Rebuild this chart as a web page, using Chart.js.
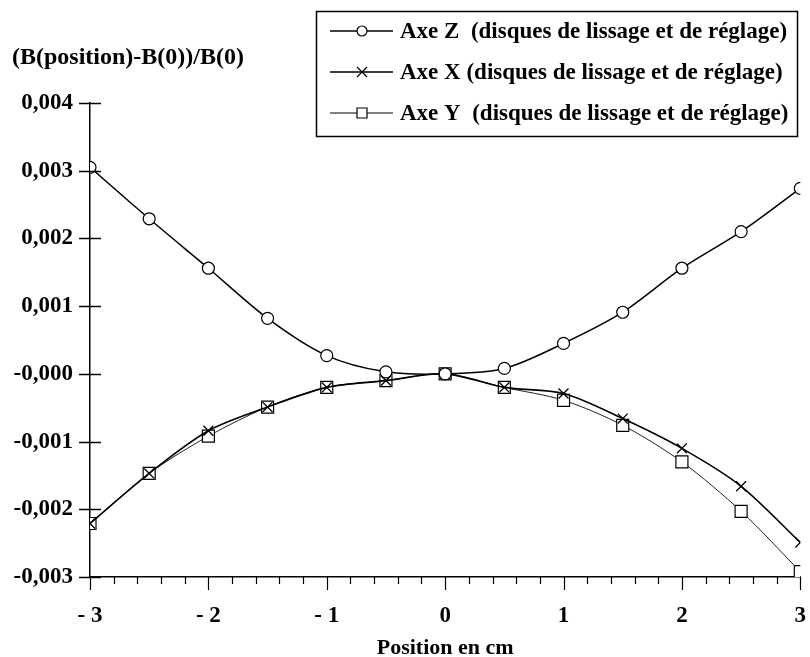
<!DOCTYPE html>
<html>
<head>
<meta charset="utf-8">
<script src="https://cdn.jsdelivr.net/npm/chart.js@4/dist/chart.umd.min.js"></script>
<style>
  body { margin: 0; background: #fff; }
  canvas { display: block; }
</style>
</head>
<body>
<canvas id="chart" width="810" height="657"></canvas>
<script>
"use strict"
// positions along the axis (cm)
const positions = [-3, -2.5, -2, -1.5, -1, -0.5, 0, 0.5, 1, 1.5, 2, 2.5, 3];

// (B(position)-B(0))/B(0)
const axeZ = [0.00305, 0.00229, 0.00156, 0.00082, 0.00027, 0.00003, 0, 0.00008, 0.00045, 0.00091, 0.00156, 0.00210, 0.00274];
const axeX = [-0.00221, -0.00147, -0.00084, -0.00049, -0.00020, -0.00010, 0, -0.00020, -0.00029, -0.00066, -0.00110, -0.00166, -0.00249];
const axeY = [-0.00221, -0.00147, -0.00092, -0.00049, -0.00020, -0.00010, 0, -0.00020, -0.00039, -0.00076, -0.00130, -0.00203, -0.00292];

const seriesLabels = [
    "Axe Z  (disques de lissage et de réglage)",
    "Axe X (disques de lissage et de réglage)",
    "Axe Y  (disques de lissage et de réglage)"
];

const yTitle = "(B(position)-B(0))/B(0)";
const xTitle = "Position en cm";

const FONT = "'Liberation Serif', 'Times New Roman', serif";

function toPoints(values) {
    return values.map((v, i) => ({ x: positions[i], y: v }));
}

// ticks crossing the y axis, major/minor ticks under the x axis, titles, boxed legend
const decorations = {
    id: "decorations",
    afterDraw(chart) {
        const ctx = chart.ctx;
        const xs = chart.scales.x;
        const ys = chart.scales.y;
        const area = chart.chartArea;
        ctx.save();
        ctx.strokeStyle = "#000";
        ctx.lineWidth = 1.5;

        ys.ticks.forEach(t => {
            const py = Math.round(ys.getPixelForValue(t.value)) + 0.5;
            ctx.beginPath();
            ctx.moveTo(area.left - 11, py);
            ctx.lineTo(area.left + 11, py);
            ctx.stroke();
        });

        ctx.lineWidth = 1.2;
        for (let i = 0; i <= 30; i++) {
            const v = -3 + i * 0.2;
            const px = Math.round(xs.getPixelForValue(v)) + 0.5;
            const len = i % 5 === 0 ? 13 : 7;
            ctx.beginPath();
            ctx.moveTo(px, area.bottom);
            ctx.lineTo(px, area.bottom + len);
            ctx.stroke();
        }

        ctx.fillStyle = "#000";
        ctx.textBaseline = "middle";
        ctx.textAlign = "left";
        ctx.font = "bold 24px " + FONT;
        ctx.fillText(yTitle, 12, 58);
        ctx.textAlign = "center";
        ctx.font = "bold 22px " + FONT;
        ctx.fillText(xTitle, (area.left + area.right) / 2, 648);

        // legend
        ctx.font = "bold 23px " + FONT;
        ctx.lineWidth = 1.5;
        ctx.strokeRect(316.5, 11.5, 481, 125);
        const rows = [31, 72, 113];
        chart.data.datasets.forEach((ds, i) => {
            const y = rows[i];
            ctx.lineWidth = ds.borderWidth;
            ctx.beginPath();
            ctx.moveTo(330, y);
            ctx.lineTo(393, y);
            ctx.stroke();
            const cx = 362;
            ctx.lineWidth = 1.2;
            ctx.beginPath();
            if (ds.pointStyle === "circle") {
                ctx.fillStyle = "#fff";
                ctx.arc(cx, y, 5, 0, Math.PI * 2);
                ctx.fill();
                ctx.stroke();
            } else if (ds.pointStyle === "crossRot") {
                ctx.moveTo(cx - 5, y - 5); ctx.lineTo(cx + 5, y + 5);
                ctx.moveTo(cx - 5, y + 5); ctx.lineTo(cx + 5, y - 5);
                ctx.stroke();
            } else {
                ctx.fillStyle = "#fff";
                ctx.rect(cx - 5, y - 5, 10, 10);
                ctx.fill();
                ctx.stroke();
            }
            ctx.fillStyle = "#000";
            ctx.textAlign = "left";
            ctx.fillText(ds.label, 400, y + 1);
        });
        ctx.restore();
    }
};

const myChart = new Chart(document.getElementById("chart"), {
    type: "line",
    data: {
        datasets: [
            {
                label: seriesLabels[0],
                data: toPoints(axeZ),
                borderColor: "#000",
                borderWidth: 1.5,
                pointStyle: "circle",
                pointRadius: 6,
                pointBorderWidth: 1.2,
                pointBackgroundColor: "#fff",
                pointBorderColor: "#000",
                tension: 0.3
            },
            {
                label: seriesLabels[1],
                data: toPoints(axeX),
                borderColor: "#000",
                borderWidth: 1.6,
                pointStyle: "crossRot",
                pointRadius: 7,
                pointBorderWidth: 1.3,
                pointBorderColor: "#000",
                tension: 0.3
            },
            {
                label: seriesLabels[2],
                data: toPoints(axeY),
                borderColor: "#222",
                borderWidth: 1,
                pointStyle: "rect",
                pointRadius: 8.5,
                pointBorderWidth: 1.2,
                pointBackgroundColor: "#fff",
                pointBorderColor: "#000",
                tension: 0.3
            }
        ]
    },
    options: {
        responsive: false,
        animation: false,
        layout: { padding: { top: 103, right: 2, left: 0, bottom: 0 } },
        plugins: {
            legend: { display: false },
            tooltip: { enabled: false }
        },
        scales: {
            x: {
                type: "linear",
                min: -3,
                max: 3,
                grid: { drawOnChartArea: false, drawTicks: false },
                border: { display: true, color: "#000", width: 1.5 },
                ticks: {
                    stepSize: 1,
                    padding: 25,
                    maxRotation: 0,
                    color: "#000",
                    font: { family: FONT, size: 23, weight: "bold" },
                    callback: v => v < 0 ? "- " + Math.abs(v) : String(v)
                },
                afterFit: scale => {
                    scale.height = 80;
                    scale.paddingLeft = 0;
                    scale.paddingRight = 0;
                }
            },
            y: {
                min: -0.003,
                max: 0.004,
                grid: { drawOnChartArea: false, drawTicks: false },
                border: { display: true, color: "#000", width: 1.5 },
                ticks: {
                    stepSize: 0.001,
                    padding: 17,
                    color: "#000",
                    font: { family: FONT, size: 23, weight: "bold" },
                    callback: v => Math.abs(v) < 1e-9 ? "-0,000" : v.toFixed(3).replace(".", ",")
                },
                afterFit: scale => {
                    scale.width = 90;
                    scale.paddingTop = 0;
                    scale.paddingBottom = 0;
                }
            }
        }
    },
    plugins: [decorations]
});
</script>
</body>
</html>
